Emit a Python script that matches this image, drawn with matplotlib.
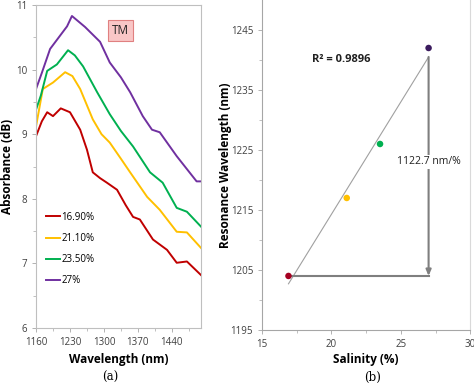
import numpy as np
import matplotlib
matplotlib.use("Agg")
import matplotlib.pyplot as plt

plt.rcParams["font.family"] = ["Open Sans", "DejaVu Sans"]

# panel (a): absorbance spectra
wl_169 = [1160, 1172, 1183, 1195, 1211, 1230, 1251, 1265, 1277, 1292, 1306, 1327, 1345, 1360, 1374, 1401, 1430, 1450, 1471, 1500]
ab_169 = [8.97, 9.20, 9.34, 9.28, 9.40, 9.34, 9.07, 8.76, 8.41, 8.32, 8.25, 8.14, 7.90, 7.72, 7.68, 7.37, 7.21, 7.01, 7.03, 6.82]

wl_211 = [1160, 1174, 1195, 1220, 1235, 1251, 1277, 1295, 1312, 1335, 1354, 1389, 1415, 1450, 1471, 1500]
ab_211 = [9.12, 9.70, 9.80, 9.96, 9.90, 9.70, 9.23, 9.00, 8.87, 8.62, 8.41, 8.03, 7.83, 7.49, 7.48, 7.24]

wl_235 = [1160, 1170, 1183, 1203, 1226, 1240, 1257, 1286, 1312, 1335, 1360, 1395, 1421, 1450, 1471, 1500]
ab_235 = [9.38, 9.60, 9.98, 10.08, 10.30, 10.22, 10.05, 9.65, 9.31, 9.05, 8.81, 8.41, 8.25, 7.86, 7.80, 7.57]

wl_27 = [1160, 1172, 1189, 1209, 1224, 1234, 1261, 1292, 1312, 1335, 1354, 1380, 1399, 1415, 1450, 1491, 1500]
ab_27 = [9.70, 9.95, 10.32, 10.52, 10.67, 10.83, 10.66, 10.43, 10.11, 9.88, 9.65, 9.28, 9.07, 9.03, 8.66, 8.27, 8.27]

labels = ["16.90%", "21.10%", "23.50%", "27%"]
colors = ["#C00000", "#FFC000", "#00B050", "#7030A0"]

# panel (b): resonance wavelength vs salinity
salinity = [16.9, 21.1, 23.5, 27.0]
resonance = [1204, 1217, 1226, 1242]
dot_colors = ["#A50021", "#FFC000", "#00B050", "#3B1B5E"]

fig = plt.figure(figsize=(4.74, 3.85), dpi=100)

grid = "#BFBFBF"
tick_kw = dict(labelsize=7, colors="#404040", length=3, width=0.6, color="#A6A6A6")

# ---- (a)
ax1 = fig.add_axes([0.076, 0.148, 0.348, 0.839])
for w, a, c, l in zip([wl_169, wl_211, wl_235, wl_27], [ab_169, ab_211, ab_235, ab_27], colors, labels):
    ax1.plot(w, a, color=c, lw=1.4, label=l)
ax1.set_xlim(1160, 1500)
ax1.set_ylim(6, 11)
ax1.set_xticks([1160, 1230, 1300, 1370, 1440])
ax1.set_xticks(np.arange(1160, 1500, 35), minor=True)
ax1.set_yticks([6, 7, 8, 9, 10, 11])
ax1.set_yticks(np.arange(6, 11, 0.5), minor=True)
ax1.tick_params(axis="both", which="major", **tick_kw)
ax1.tick_params(axis="both", which="minor", length=2, width=0.5, color="#A6A6A6")
for s in ax1.spines.values():
    s.set_color(grid)
    s.set_linewidth(0.8)
ax1.set_xlabel("Wavelength (nm)", fontsize=8.5, fontweight="bold")
ax1.set_ylabel("Absorbance (dB)", fontsize=8.5, fontweight="bold")
ax1.xaxis.set_label_coords(0.5, -0.078)
ax1.yaxis.set_label_coords(-0.135, 0.5)
ax1.text(1334, 10.6, "TM", fontsize=8.5, ha="center", va="center", color="#202020",
         bbox=dict(boxstyle="square,pad=0.35", fc="#F9C6C6", ec="#E08080", lw=0.8))
ax1.legend(loc="upper left", bbox_to_anchor=(0.06, 0.36), frameon=False, fontsize=7,
           handlelength=1.4, handletextpad=0.2, labelspacing=1.05, borderaxespad=0, borderpad=0)

# ---- (b)
ax2 = fig.add_axes([0.553, 0.143, 0.439, 0.857])
k, b = np.polyfit(salinity, resonance, 1)
fit_x = np.array([salinity[0], salinity[-1]])
ax2.plot(fit_x, k * fit_x + b, color="#A0A0A0", lw=0.8, zorder=2)
pred = k * np.array(salinity) + b
r2 = 1 - np.sum((np.array(resonance) - pred) ** 2) / np.sum((np.array(resonance) - np.mean(resonance)) ** 2)
ax2.scatter(salinity, resonance, c=dot_colors, s=22, zorder=4, edgecolors="none")

ax2.plot([salinity[0], salinity[-1]], [resonance[0], resonance[0]], color="#7F7F7F", lw=1.5, zorder=3)
ax2.annotate("", xy=(salinity[-1], resonance[0]), xytext=(salinity[-1], k * salinity[-1] + b),
             arrowprops=dict(arrowstyle="-|>,head_length=0.35,head_width=0.15", color="#7F7F7F", lw=1.5,
                             shrinkA=0, shrinkB=0), zorder=3)
ax2.text(salinity[-1], 1223, "%.1f nm/%%" % 1122.7, fontsize=7.5, ha="center", va="center", color="#202020",
         bbox=dict(boxstyle="square,pad=0.15", fc="white", ec="none"), zorder=5)
ax2.text(18.6, 1240, "R² = %.4f" % r2, fontsize=8, fontweight="bold", ha="left", va="center", color="#202020")

ax2.set_xlim(15, 30)
ax2.set_ylim(1195, 1250)
ax2.set_xticks([15, 20, 25, 30])
ax2.set_xticks(np.arange(15, 30, 2.5), minor=True)
ax2.set_yticks([1195, 1205, 1215, 1225, 1235, 1245])
ax2.set_yticks(np.arange(1195, 1250, 5), minor=True)
ax2.tick_params(axis="both", which="major", **tick_kw)
ax2.tick_params(axis="both", which="minor", length=2, width=0.5, color="#A6A6A6")
ax2.spines["top"].set_visible(False)
ax2.spines["left"].set_color("#A6A6A6")
ax2.spines["bottom"].set_color("#A6A6A6")
ax2.spines["right"].set_color("#D9D9D9")
ax2.set_xlabel("Salinity (%)", fontsize=8.5, fontweight="bold")
ax2.set_ylabel("Resonance Wavelength (nm)", fontsize=8.5, fontweight="bold")
ax2.xaxis.set_label_coords(0.5, -0.07)
ax2.yaxis.set_label_coords(-0.145, 0.5)

fig.text(0.232, 0.02, "(a)", fontsize=8.5, family="DejaVu Serif", ha="center", va="center")
fig.text(0.787, 0.02, "(b)", fontsize=8.5, family="DejaVu Serif", ha="center", va="center")

fig.savefig("out.png", dpi=100)
